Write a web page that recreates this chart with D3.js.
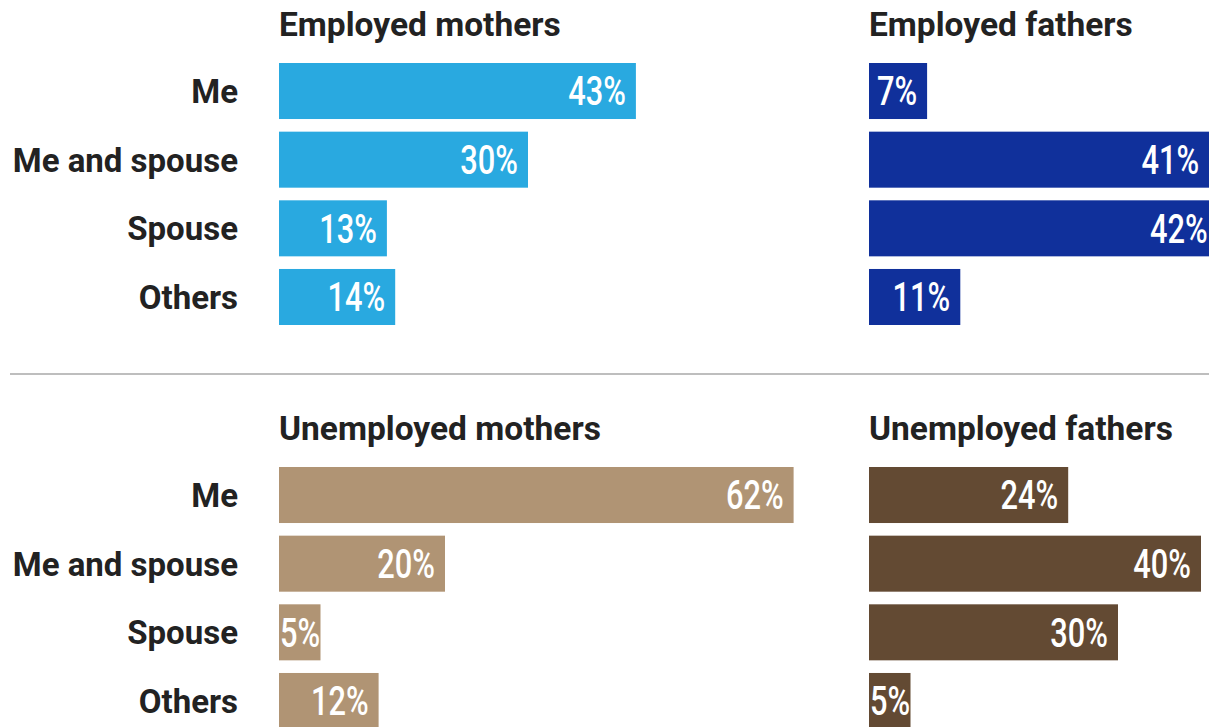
<!DOCTYPE html>
<html>
<head>
<meta charset="utf-8">
<script src="https://cdn.jsdelivr.net/npm/d3@7/dist/d3.min.js"></script>
<style>
  html, body { margin: 0; padding: 0; background: #fff; }
  svg { display: block; }
</style>
</head>
<body>
<svg id="chart" width="1209" height="727"></svg>
<script>
// Who handles childcare — share of answers by parent group
const categories = ["Me", "Me and spouse", "Spouse", "Others"];

const employedMothers   = [43, 30, 13, 14];
const employedFathers   = [7, 41, 42, 11];
const unemployedMothers = [62, 20, 5, 12];
const unemployedFathers = [24, 40, 30, 5];

const panelTitles = ["Employed mothers", "Employed fathers", "Unemployed mothers", "Unemployed fathers"];
const panelColors = ["#29a9e0", "#10309b", "#b09474", "#634a33"];

const svg = d3.select("#chart");

// horizontal scale shared by every panel: percent -> bar length
const x = d3.scaleLinear().domain([0, 100]).range([0, 830]);

const panels = [
  { title: panelTitles[0], values: employedMothers,   color: panelColors[0], x0: 279, top: 63,  labels: true },
  { title: panelTitles[1], values: employedFathers,   color: panelColors[1], x0: 869, top: 63,  labels: false },
  { title: panelTitles[2], values: unemployedMothers, color: panelColors[2], x0: 279, top: 467, labels: true },
  { title: panelTitles[3], values: unemployedFathers, color: panelColors[3], x0: 869, top: 467, labels: false }
];

const textFont = "Roboto, 'Liberation Sans', sans-serif";
const narrow = 0.77; // horizontal squeeze for the value labels

panels.forEach(p => {
  const y = d3.scaleBand()
    .domain(categories)
    .range([p.top, p.top + 262])
    .paddingInner(0.184)
    .paddingOuter(0);

  const g = svg.append("g");

  // panel title
  g.append("text")
    .attr("x", p.x0)
    .attr("y", p.top - 27)
    .attr("font-family", textFont)
    .attr("font-weight", 700)
    .attr("font-size", 33.5)
    .attr("fill", "#222")
    .text(p.title);

  // category labels on the left column
  if (p.labels) {
    const axis = d3.axisLeft(y).tickSize(0).tickPadding(0);
    const ax = g.append("g")
      .attr("transform", `translate(238,0)`)
      .call(axis);
    ax.select(".domain").remove();
    ax.selectAll("text")
      .attr("font-family", textFont)
      .attr("font-weight", 700)
      .attr("font-size", 33)
      .attr("fill", "#222")
      .attr("dy", "0.36em");
  }

  const rows = g.selectAll("g.row")
    .data(categories.map((c, i) => ({ cat: c, v: p.values[i] })))
    .join("g")
    .attr("class", "row");

  rows.append("rect")
    .attr("x", p.x0)
    .attr("y", d => y(d.cat))
    .attr("width", d => x(d.v))
    .attr("height", y.bandwidth())
    .attr("fill", p.color);

  rows.append("text")
    .attr("font-family", textFont)
    .attr("font-weight", 500)
    .attr("font-size", 40)
    .attr("fill", "#fff")
    .attr("text-anchor", "end")
    .attr("dy", "0.36em")
    .text(d => d.v + "%")
    .attr("transform", function (d) {
      const w = this.getComputedTextLength() * narrow;
      const end = p.x0 + x(d.v);
      const tx = Math.max(end - 10, p.x0 + w + 1);
      const ty = y(d.cat) + y.bandwidth() / 2;
      return `translate(${tx},${ty}) scale(${narrow},1)`;
    });
});

// divider between employed and unemployed groups
svg.append("line")
  .attr("x1", 10).attr("x2", 1209)
  .attr("y1", 374).attr("y2", 374)
  .attr("stroke", "#a8a8a8")
  .attr("stroke-width", 1.5);
</script>
</body>
</html>
